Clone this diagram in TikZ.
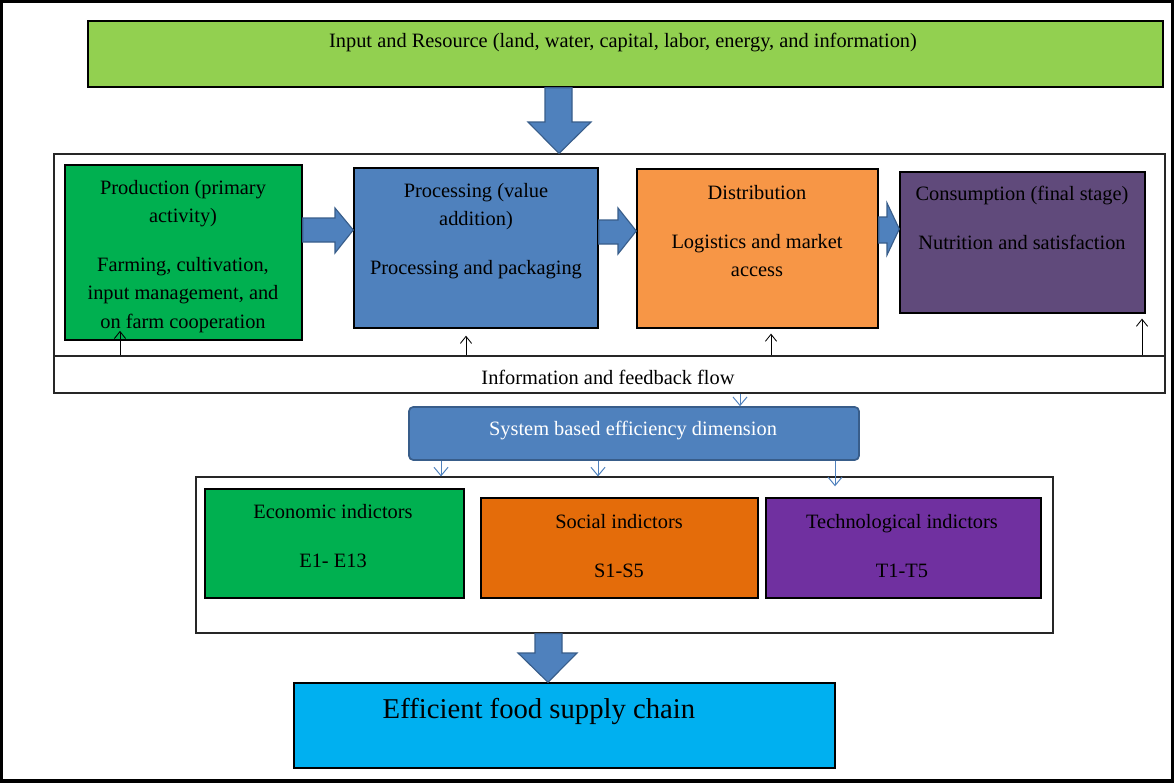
\documentclass[tikz,border=0pt]{standalone}
\usepackage{fontspec}
\setmainfont{Liberation Serif}
\usetikzlibrary{fit,arrows.meta,positioning}

\definecolor{inputgreen}{HTML}{92D050}
\definecolor{prodgreen}{HTML}{00B050}
\definecolor{procblue}{HTML}{4F81BD}
\definecolor{arrowedge}{HTML}{385D8A}
\definecolor{distorange}{HTML}{F79646}
\definecolor{conspurple}{HTML}{604A7B}
\definecolor{socorange}{HTML}{E46C0A}
\definecolor{techpurple}{HTML}{7030A0}
\definecolor{effblue}{HTML}{00B0F0}

\begin{document}
\begin{tikzpicture}[x=0.025cm, y=-0.025cm,
  every node/.style={font={\fontsize{14.5}{20}\selectfont}},
  stage/.style={draw=black, line width=1pt, inner sep=0pt},
  frame/.style={draw=black!85, line width=0.8pt, inner sep=0pt},
  txt/.style={align=center, inner sep=0pt, anchor=north},
  blockarrow/.style={fill=procblue, draw=arrowedge, line width=0.8pt},
  fbarrow/.style={black, line width=0.6pt, -{Straight Barb[length=5pt,width=8pt]}},
  dimarrow/.style={procblue, line width=0.7pt, -{Straight Barb[length=6pt,width=10pt]}}]
  \useasboundingbox (0,0) rectangle (1174,782);
  \draw[line width=4pt] (0,0) rectangle (1174,782);
  % inputs on top
  \node[stage, fill=inputgreen, fit={(88,21) (1163,87)}] (input) {};
  \node[txt, anchor=center] (input-t) at (623,43) {Input and Resource (land, water, capital, labor, energy, and information)};
  % supply chain stages + feedback band
  \node[frame, fit={(54,154) (1165,356)}] (chain) {};
  \node[frame, fit={(54,356) (1165,393)}] (band) {};
  \node[txt, anchor=center] (band-t) at (608,377) {Information and feedback flow};
  \node[stage, fill=prodgreen, fit={(65,165) (302,340)}] (prod) {};
  \node[stage, fill=procblue, fit={(354,168) (598,328)}] (proc) {};
  \node[stage, fill=distorange, fit={(637,169) (878,328)}] (dist) {};
  \node[stage, fill=conspurple, fit={(900,172) (1145,313)}] (cons) {};
  \node[txt] (prod-t) at (183,180) {Production (primary\\ activity)\\[15pt] Farming, cultivation,\\ input management, and\\ on farm cooperation};
  \node[txt] (proc-t) at (476,183) {Processing (value\\ addition)\\[15pt] Processing and packaging};
  \node[txt] (dist-t) at (757,185) {Distribution\\[15pt] Logistics and market\\ access};
  \node[txt] (cons-t) at (1022,186) {Consumption (final stage)\\[15pt] Nutrition and satisfaction};
  % block arrows
  \filldraw[blockarrow] (input.south -| 545,0) -- (545,122) -- (528,122) -- (chain.north -| 559,0)
    -- (591,122) -- (572,122) -- (input.south -| 572,0) -- cycle;
  \filldraw[blockarrow] (prod.east |- 0,218) -- (335,218) -- (335,208) -- (proc.west |- 0,230)
    -- (335,253) -- (335,242) -- (prod.east |- 0,242) -- cycle;
  \filldraw[blockarrow] (proc.east |- 0,220) -- (618,220) -- (618,208) -- (dist.west |- 0,231)
    -- (618,254) -- (618,244) -- (proc.east |- 0,244) -- cycle;
  \filldraw[blockarrow] (dist.east |- 0,217) -- (887,217) -- (887,203) -- (cons.west |- 0,229)
    -- (887,255) -- (887,243) -- (dist.east |- 0,243) -- cycle;
  % feedback arrows
  \coordinate (fb1) at (band.north -| 120,0);
  \coordinate (fb2) at (band.north -| 466,0);
  \coordinate (fb3) at (band.north -| 771,0);
  \coordinate (fb4) at (band.north -| 1142,0);
  \draw[fbarrow, shorten >=-7pt] (fb1) -- (prod.south -| fb1);
  \draw[fbarrow, shorten >=5pt] (fb2) -- (proc.south -| fb2);
  \draw[fbarrow, shorten >=3.5pt] (fb3) -- (dist.south -| fb3);
  \draw[fbarrow, shorten >=3.5pt] (fb4) -- (cons.south -| fb4);
  % efficiency dimension
  \node[fit={(409,407) (859,460)}, inner sep=0pt, draw=arrowedge, fill=procblue, line width=1.2pt,
    rounded corners=3pt] (sbed) {};
  \node[txt, anchor=center, text=white] (sbed-t) at (633,431) {System based efficiency dimension};
  \draw[dimarrow] (band.south -| 740,0) -- (sbed.north -| 740,0);
  % indicators
  \node[frame, fit={(196,477) (1053,633)}] (ind) {};
  \node[stage, fill=prodgreen, fit={(205,489) (464,598)}] (econ) {};
  \node[stage, fill=socorange, fit={(481,498) (758,598)}] (soc) {};
  \node[stage, fill=techpurple, fit={(766,498) (1041,598)}] (tech) {};
  \node[txt] (econ-t) at (333,504) {Economic indictors\\[15pt] E1- E13};
  \node[txt] (soc-t) at (619,514) {Social indictors\\[15pt] S1-S5};
  \node[txt] (tech-t) at (902,514) {Technological indictors\\[15pt] T1-T5};
  \draw[dimarrow] (sbed.south -| 441,0) -- (ind.north -| 441,0);
  \draw[dimarrow] (sbed.south -| 598,0) -- (ind.north -| 598,0);
  \draw[dimarrow, shorten >=-7pt] (sbed.south -| 835,0) -- (ind.north -| 835,0);
  % result
  \node[stage, fill=effblue, fit={(294,683) (835,768)}] (eff) {};
  \node[font={\fontsize{20.4}{24}\selectfont}] (eff-t) at (539,711) {Efficient food supply chain};
  \filldraw[blockarrow] (ind.south -| 535,0) -- (535,653) -- (518,653) -- (eff.north -| 548,0)
    -- (577,653) -- (562,653) -- (ind.south -| 562,0) -- cycle;
\end{tikzpicture}
\end{document}
